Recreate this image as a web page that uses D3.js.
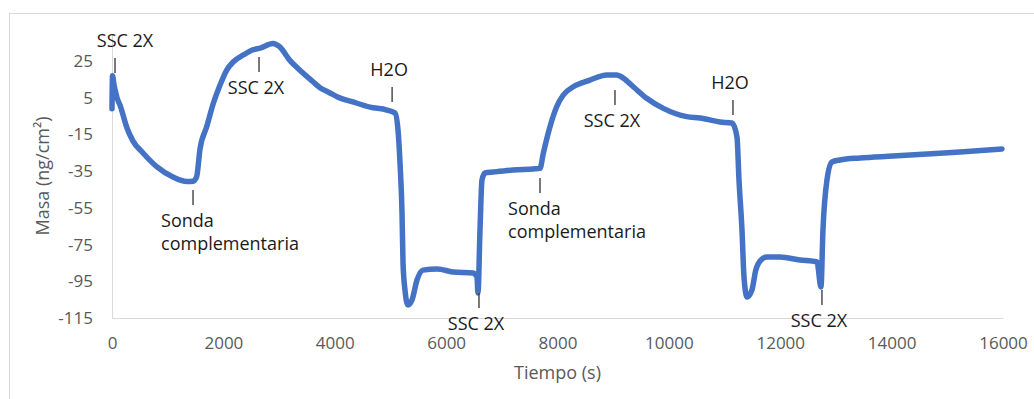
<!DOCTYPE html>
<html>
<head>
<meta charset="utf-8">
<script src="https://cdn.jsdelivr.net/npm/d3@7"></script>
<style>
  html, body { margin: 0; padding: 0; background: #ffffff; }
  svg { display: block; font-family: 'Open Sans', sans-serif; }
</style>
</head>
<body>
<div class="chart"></div>
<script>
'use strict';

/* Series */
var tiempo = [0, 9, 36, 54, 90, 144, 269, 377, 557, 808,
  1095, 1347, 1455, 1520, 1580, 1700, 1820, 1940, 2060, 2180,
  2360, 2540, 2660, 2890, 3010, 3190, 3370, 3610, 3735, 3915,
  4040, 4328, 4633, 4938, 5082, 5136, 5172, 5208, 5226, 5261,
  5315, 5387, 5477, 5585, 5836, 6123, 6483, 6554, 6572, 6608,
  6644, 6698, 6842, 7201, 7560, 7686, 7745, 7865, 7985, 8104,
  8284, 8583, 8883, 9062, 9182, 9361, 9601, 9900, 10320, 10559,
  10918, 11133, 11223, 11259, 11313, 11349, 11403, 11492, 11560, 11650,
  11762, 11995, 12354, 12660, 12731, 12767, 12839, 12929, 13073, 13432,
  14024, 14635, 15227, 15982];

var masa = [-1, 17, 12, 9.5, 5, 1, -11.5, -18.6, -25.1, -32.7,
  -38.2, -40.7, -40.5, -38, -23, -10.8, 2, 11.9, 20.1, 24.6,
  28.3, 31.2, 32, 34.6, 32.8, 25.5, 20.1, 13.7, 10.5, 7.6,
  5.6, 2.7, -0.1, -1.7, -3.3, -12.6, -30.6, -57.8, -85, -99.7,
  -107.9, -105.2, -94.3, -88.9, -88.3, -89.9, -90.5, -92.7, -101.4, -67.1,
  -39.8, -36, -35.5, -34.4, -33.8, -33.5, -25.3, -10.8, 0.1, 6.5,
  11, 14.6, 17.4, 17.4, 15.7, 11, 4.7, -0.8, -5.3, -6,
  -8.2, -8.8, -16.4, -39.8, -67.1, -92.7, -103.6, -99.7, -89, -83.5,
  -81.8, -81.8, -83.4, -84.5, -98.1, -67.1, -39.8, -30, -28.9, -27.8,
  -26.8, -25.7, -24.6, -22.9];

var xTicks = [0, 2000, 4000, 6000, 8000, 10000, 12000, 14000, 16000];
var yTicks = [25, 5, -15, -35, -55, -75, -95, -115];

/* Event annotations: time, value where the marker meets the curve, side */
var annLabels = ['SSC 2X', 'SSC 2X', 'Sonda\ncomplementaria', 'H2O', 'SSC 2X',
  'Sonda\ncomplementaria', 'SSC 2X', 'H2O', 'SSC 2X'];
var annTimes  = [54, 2640, 1455, 5030, 6590, 7686, 9032, 11151, 12749];
var annValues = [18.5, 27.2, -45.3, 2.7, -101.4, -38.7, 9.2, -4.4, -99.7];
var annSides  = ['above', 'below', 'below', 'above', 'below', 'below', 'below', 'above', 'below'];

var width  = 1034,
    height = 399;

var svg = d3.select('.chart')
  .append('svg')
  .attr('width', width)
  .attr('height', height);

// chart frame
svg.append('rect')
  .attr('x', 9.5).attr('y', 13.5)
  .attr('width', 1040).attr('height', 400)
  .style('fill', 'none')
  .style('stroke', '#d9d9d9');

var x = d3.scaleLinear().domain([0, 16000]).range([112, 1003]);
var y = d3.scaleLinear().domain([-115, 40]).range([318, 33.5]);

// x axis
var gx = svg.append('g')
  .attr('transform', 'translate(0,318)')
  .call(d3.axisBottom(x).tickValues(xTicks).tickSize(0).tickPadding(19)
    .tickFormat(function(d) { return String(d); }));
gx.select('.domain').style('stroke', '#d9d9d9');
gx.selectAll('text')
  .style('font-family', "'Open Sans', sans-serif")
  .style('font-size', '17px')
  .style('fill', '#595959');

// y axis
var gy = svg.append('g')
  .attr('transform', 'translate(112,0)')
  .call(d3.axisLeft(y).tickValues(yTicks).tickSize(0).tickPadding(19)
    .tickFormat(function(d) { return String(d); }));
gy.select('.domain').style('stroke', '#d9d9d9');
gy.selectAll('text')
  .style('font-family', "'Open Sans', sans-serif")
  .style('font-size', '17px')
  .style('fill', '#595959');

// axis titles
svg.append('text')
  .attr('x', 557.5).attr('y', 379)
  .attr('text-anchor', 'middle')
  .style('font-size', '18px')
  .style('fill', '#595959')
  .text('Tiempo (s)');

svg.append('text')
  .attr('transform', 'translate(49,176) rotate(-90)')
  .attr('text-anchor', 'middle')
  .style('font-size', '18px')
  .style('fill', '#595959')
  .text('Masa (ng/cm²)');

// the series
var line = d3.line()
  .x(function(d) { return x(d[0]); })
  .y(function(d) { return y(d[1]); })
  .curve(d3.curveMonotoneX);

svg.append('path')
  .datum(d3.zip(tiempo, masa))
  .attr('d', line)
  .style('fill', 'none')
  .style('stroke', '#4472c4')
  .style('stroke-width', 5.5)
  .style('stroke-linejoin', 'round')
  .style('stroke-linecap', 'round');

// annotations
var tickLen = 15;
var ann = svg.selectAll('g.ann')
  .data(d3.range(annLabels.length)).enter()
  .append('g')
    .attr('class', 'ann')
    .attr('transform', function(i) {
      return 'translate(' + x(annTimes[i]) + ',' + y(annValues[i]) + ')';
    });

ann.append('line')
  .attr('x1', 0).attr('x2', 0)
  .attr('y1', 0)
  .attr('y2', function(i) { return annSides[i] === 'above' ? -tickLen : tickLen; })
  .style('stroke', '#404040')
  .style('stroke-width', 1.4);

ann.each(function(i) {
  var g = d3.select(this);
  var lines = annLabels[i].split('\n');
  var multi = lines.length > 1;
  var t = g.append('text')
    .style('font-size', '18px')
    .style('fill', '#1a1a1a')
    .attr('text-anchor', multi ? 'start' : 'middle');
  lines.forEach(function(s, k) {
    t.append('tspan')
      .attr('x', multi ? -32 : (i === 0 ? 10 : -3))
      .attr('y', annSides[i] === 'above' ? -tickLen - 11 : tickLen + 22 + k * 23)
      .text(s);
  });
});
</script>
</body>
</html>
